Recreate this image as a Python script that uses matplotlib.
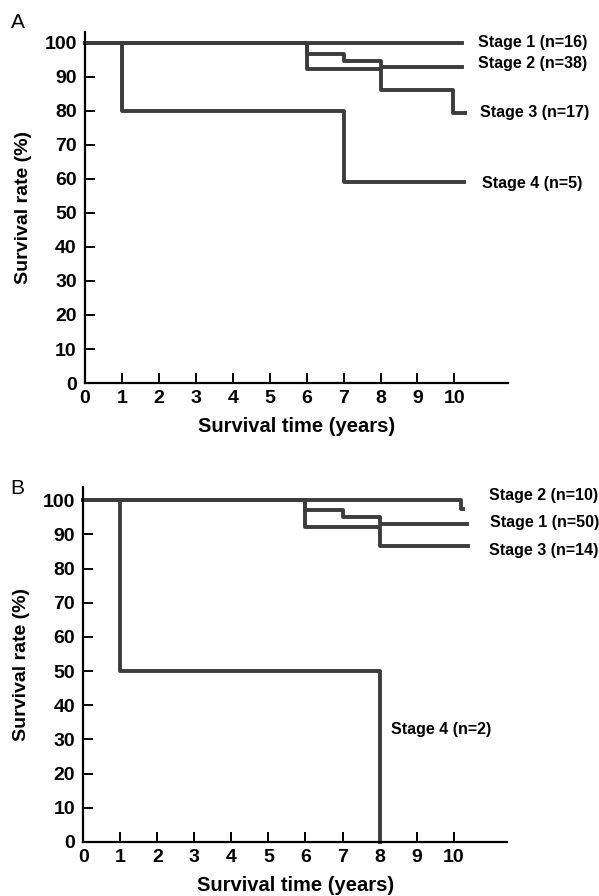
import matplotlib
matplotlib.use("Agg")
import matplotlib.pyplot as plt

plt.rcParams['font.family'] = ['Liberation Sans', 'DejaVu Sans']

# Panel A: time points (years) and survival (%) for each stage, step "post"
a_stage1_t = [0, 10.2]
a_stage1_s = [100, 100]
a_stage2_t = [0, 6, 7, 8, 10.2]
a_stage2_s = [100, 96.8, 94.7, 92.9, 92.9]
a_stage3_t = [0, 6, 8, 9.95, 10.3]
a_stage3_s = [100, 92.4, 86.0, 79.4, 79.4]
a_stage4_t = [0, 1, 7, 10.25]
a_stage4_s = [100, 80, 59, 59]
a_labels = ["Stage 1 (n=16)", "Stage 2 (n=38)", "Stage 3 (n=17)", "Stage 4 (n=5)"]

# Panel B
b_stage1_t = [0, 6, 7, 8, 10.35]
b_stage1_s = [100, 97.3, 95.1, 93.2, 93.2]
b_stage2_t = [0, 10.2, 10.25]
b_stage2_s = [100, 97.6, 97.6]
b_stage3_t = [0, 6, 8, 10.4]
b_stage3_s = [100, 92.2, 86.6, 86.6]
b_stage4_t = [0, 1, 8, 8.02]
b_stage4_s = [100, 50, 0, 0]
b_labels = ["Stage 1 (n=50)", "Stage 2 (n=10)", "Stage 3 (n=14)", "Stage 4 (n=2)"]

xticks = list(range(0, 11))
yticks = list(range(0, 101, 10))

LINE = '#3c3c3c'


def setup_axes(ax, ytop):
    ax.set_xlim(0, 11.45)
    ax.set_ylim(0, ytop)
    for side in ('top', 'right'):
        ax.spines[side].set_visible(False)
    for side in ('left', 'bottom'):
        ax.spines[side].set_linewidth(1.6)
    ax.set_xticks(xticks)
    ax.set_yticks(yticks)
    ax.tick_params(axis='both', direction='in', length=7, width=1.4)
    ax.tick_params(axis='y', pad=6)
    ax.tick_params(axis='x', pad=5)
    for lab in ax.get_xticklabels() + ax.get_yticklabels():
        lab.set_fontsize(14)
        lab.set_fontweight('bold')
    ax.set_xlabel("Survival time (years)", fontsize=14.5, fontweight='bold', labelpad=7)
    ax.set_ylabel("Survival rate (%)", fontsize=14, fontweight='bold', labelpad=9)


fig = plt.figure(figsize=(5.99, 8.96), dpi=100)
ax_a = fig.add_axes([0.142, 0.5725, 0.706, 0.392])
ax_b = fig.add_axes([0.139, 0.0603, 0.708, 0.3962])

setup_axes(ax_a, 103.2)
setup_axes(ax_b, 103.9)

for t, s in [(a_stage1_t, a_stage1_s), (a_stage2_t, a_stage2_s),
             (a_stage3_t, a_stage3_s), (a_stage4_t, a_stage4_s)]:
    ax_a.step(t, s, where='post', color=LINE, lw=2.8, clip_on=False)

for t, s in [(b_stage1_t, b_stage1_s), (b_stage2_t, b_stage2_s),
             (b_stage3_t, b_stage3_s), (b_stage4_t, b_stage4_s)]:
    ax_b.step(t, s, where='post', color=LINE, lw=2.8, clip_on=False)

lab_kw = dict(fontsize=11.5, fontweight='bold', va='center', ha='left')
ax_a.text(10.65, 100.0, a_labels[0], **lab_kw)
ax_a.text(10.65, 93.8, a_labels[1], **lab_kw)
ax_a.text(10.7, 79.4, a_labels[2], **lab_kw)
ax_a.text(10.75, 58.5, a_labels[3], **lab_kw)

ax_b.text(10.95, 101.5, b_labels[1], **lab_kw)
ax_b.text(10.98, 93.6, b_labels[0], **lab_kw)
ax_b.text(10.95, 85.2, b_labels[2], **lab_kw)
ax_b.text(8.3, 32.8, b_labels[3], **lab_kw)

fig.text(18 / 599, 1 - 22 / 896, "A", fontsize=15, ha='center', va='center')
fig.text(17 / 599, 1 - 488 / 896, "B", fontsize=15, ha='center', va='center')

fig.savefig("out.png", dpi=100)
